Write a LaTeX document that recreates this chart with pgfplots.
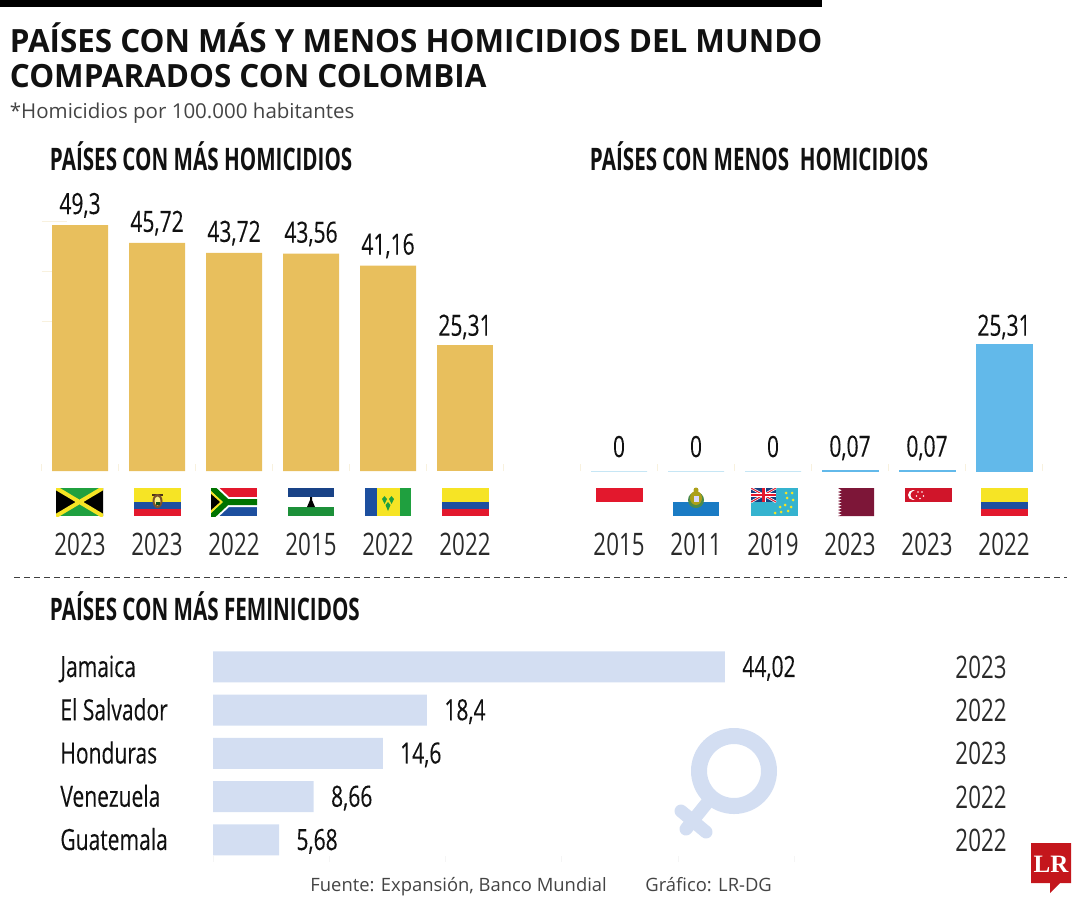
\documentclass[border=0pt]{standalone}
\usepackage{pgfplots}
\pgfplotsset{compat=1.18}
\usepackage{fontspec}
\setmainfont{Open Sans}
\newfontfamily\tfam[FakeStretch=0.98]{Open Sans}
\newfontfamily\hfam[FakeStretch=0.665]{Open Sans}
\newfontfamily\dfam[FakeStretch=0.72]{Open Sans}
\newfontfamily\dbfam[FakeStretch=0.72,FakeBold=0.15]{Open Sans}
\newcommand{\fT}{\tfam\bfseries\fontsize{16}{20}\selectfont}
\newcommand{\fH}{\hfam\bfseries\fontsize{15.5}{17}\selectfont}
\newcommand{\fD}{\dbfam\fontsize{14.6}{17}\selectfont}
\newcommand{\fY}{\dfam\fontsize{15.5}{17}\selectfont}
\newcommand{\fS}{\fontsize{10.25}{12}\selectfont}
\newcommand{\fF}{\fontsize{9.2}{11}\selectfont}
\definecolor{gold}{HTML}{E8BF5D}
\definecolor{skyb}{HTML}{62B9EA}
\definecolor{palebl}{HTML}{C6E6F5}
\definecolor{lav}{HTML}{D3DEF2}
\definecolor{tickc}{HTML}{F8F1DE}
\definecolor{txt}{HTML}{111111}
\definecolor{yr}{HTML}{2A2A2A}
\definecolor{grayt}{HTML}{444444}
\definecolor{cyel}{HTML}{F6E425}
\definecolor{cblu}{HTML}{1D4F9F}
\definecolor{cred}{HTML}{E3182D}
\definecolor{cgrn}{HTML}{1FA03F}
\definecolor{smb}{HTML}{1A7BC4}
\definecolor{tuv}{HTML}{35B3CF}
\definecolor{qat}{HTML}{7D1638}
\definecolor{sgp}{HTML}{D0152A}
\definecolor{lrr}{HTML}{C4161C}
\pgfplotsset{
  /pgf/number format/.cd, assume math mode=true, use comma, 1000 sep={}, fixed, precision=2,
  /pgfplots/.cd,
  vbars/.style={
    scale only axis, width=231pt, height=124.75pt, anchor=south west,
    xmin=-0.5, xmax=5.5, ymin=0, ymax=50,
    ybar, bar width=28pt, bar shift=0pt,
    clip=false,
    axis line style={draw=none},
    xtick={0,1,2,3,4,5},
    minor xtick={-0.5,0.5,1.5,2.5,3.5,4.5,5.5},
    major tick length=0pt,
    minor tick length=3.5pt,
    tick style={color=tickc, line width=0.5pt},
    tick pos=bottom, tick align=inside,
    xticklabel style={font=\fY, text=yr, yshift=-31pt, inner sep=0pt},
    nodes near coords,
    every node near coord/.append style={font=\fD, text=txt, anchor=base, yshift=5pt, inner sep=0pt},
  },
}
\newcommand{\flag}[2]{\begin{scope}[shift={(#1)}]\begin{scope}#2\end{scope}\end{scope}}
\newcommand{\colombia}{%
  \fill[cyel] (0,0) rectangle (47,14);
  \fill[cblu] (0,14) rectangle (47,21);
  \fill[cred] (0,21) rectangle (47,28);}
\begin{document}
\begin{tikzpicture}[x=0.5pt,y=-0.5pt]
\path[use as bounding box] (0,0) rectangle (1080,900);
\fill[black] (0,0) rectangle (822,7);

\node[anchor=base west,inner sep=0pt,text=txt,font=\fT] at (9.5,52) {PAÍSES CON MÁS Y MENOS HOMICIDIOS DEL MUNDO};
\node[anchor=base west,inner sep=0pt,text=txt,font=\fT] at (9.5,87.5) {COMPARADOS CON COLOMBIA};
\node[anchor=base west,inner sep=0pt,text=grayt,font=\fS] at (9.5,118) {*Homicidios por 100.000 habitantes};
\node[anchor=base west,inner sep=0pt,text=txt,font=\fH] at (49.5,170) {PAÍSES CON MÁS HOMICIDIOS};
\node[anchor=base west,inner sep=0pt,text=txt,font=\fH] at (589.5,170) {PAÍSES CON MENOS\ \ HOMICIDIOS};
\node[anchor=base west,inner sep=0pt,text=txt,font=\fH] at (49.5,620.5) {PAÍSES CON MÁS FEMINICIDOS};

% left chart
\begin{axis}[vbars, at={(20.75pt,-235.5pt)},
  xticklabels={2023,2023,2022,2015,2022,2022},
  ytick=\empty,
  ]
  \pgfplotsextra{\draw[tickc,line width=0.5pt]
     (axis cs:-0.5,50) -- ++(12.5pt,0pt) (axis cs:-0.5,40) -- ++(6pt,0pt) (axis cs:-0.5,30) -- ++(6pt,0pt);}
  \addplot[fill=gold,draw=none,every node near coord/.append style={yshift=0.5pt}] coordinates {(0,49.3) (1,45.72) (2,43.72) (3,43.56) (4,41.16)};
  \addplot[fill=gold,draw=none,every node near coord/.append style={yshift=-0.5pt}] coordinates {(5,25.31)};
\end{axis}

% right chart
\begin{axis}[vbars, at={(290.25pt,-235.5pt)},
  xticklabels={2015,2011,2019,2023,2023,2022},
  ytick=\empty,
  ]
  \addplot[fill=palebl,draw=palebl,line width=0.35pt,every node near coord/.append style={yshift=2pt}] coordinates {(0,0) (1,0) (2,0)};
  \addplot[fill=skyb,draw=skyb,line width=0.35pt,every node near coord/.append style={yshift=2pt}] coordinates {(3,0.07) (4,0.07)};
  \addplot[fill=skyb,draw=skyb,line width=0.35pt,every node near coord/.append style={yshift=-0.5pt}] coordinates {(5,25.31)};
\end{axis}

% flags left
\flag{56,488}{\clip (0,0) rectangle (47,28);
  \fill[cgrn] (0,0) rectangle (47,28);
  \fill[black] (0,0)--(23.5,14)--(0,28)--cycle (47,0)--(23.5,14)--(47,28)--cycle;
  \draw[cyel,line width=2pt] (0,0)--(47,28) (47,0)--(0,28);}
\flag{134,488}{\colombia
  \fill[black!60!brown] (18,6) rectangle (29,8);
  \fill[brown!65!black] (23.5,13) ellipse (5 and 7);
  \fill[cyel!55!white] (23.5,13) ellipse (3 and 4.5);
  \fill[cgrn!50!black] (21.5,14) rectangle (25.5,17);}
\flag{211,488}{\clip (0,0) rectangle (46,28);
  \fill[cred] (0,0) rectangle (46,14);
  \fill[cblu] (0,14) rectangle (46,28);
  \draw[white,line width=5pt] (0,-1)--(16,14)--(46,14) (0,29)--(16,14);
  \draw[green!45!black,line width=3pt] (0,-1)--(16,14)--(46,14) (0,29)--(16,14);
  \fill[cyel] (0,3)--(12,14)--(0,25)--cycle;
  \fill[black] (0,6)--(9,14)--(0,22)--cycle;}
\flag{288,488}{
  \fill[cblu!85!black] (0,0) rectangle (46,9);
  \fill[cgrn!90!black] (0,19) rectangle (46,28);
  \fill[black] (19,19)--(22,12)--(22,9)--(24,9)--(24,12)--(27,19)--cycle;}
\flag{365,488}{
  \fill[cblu] (0,0) rectangle (11.5,28);
  \fill[cyel] (11.5,0) rectangle (34.5,28);
  \fill[cgrn] (34.5,0) rectangle (46,28);
  \fill[cgrn] (17,11)--(19.5,8)--(22,11)--(19.5,16)--cycle
              (24,11)--(26.5,8)--(29,11)--(26.5,16)--cycle
              (20.5,17)--(23,14)--(25.5,17)--(23,23)--cycle;}
\flag{442,488}{\colombia}

% flags right
\flag{596,488}{\fill[cred] (0,0) rectangle (47,14);}
\flag{673,488}{
  \fill[smb] (0,14) rectangle (46,28);
  \fill[green!35!black!70] (23,12) ellipse (8 and 8);
  \fill[cyel!70!black] (23,10) ellipse (6 and 7);
  \fill[white!85!blue] (20.5,8) rectangle (25.5,14);
  \fill[cyel!70!black] (23,2) circle (2.5);}
\flag{751,488}{\clip (0,0) rectangle (47,28);
  \fill[tuv] (0,0) rectangle (47,28);
  \fill[cblu!80!black] (0,0) rectangle (25,14);
  \draw[white,line width=1.2pt] (0,0)--(25,14) (25,0)--(0,14);
  \draw[cred,line width=0.5pt] (0,0)--(25,14) (25,0)--(0,14);
  \draw[white,line width=2pt] (12.5,0)--(12.5,14) (0,7)--(25,7);
  \draw[cred,line width=1.1pt] (12.5,0)--(12.5,14) (0,7)--(25,7);
  \foreach \p in {{24,25},{30,24},{29,19},{37,23},{34,17},{40,19},{36,10},{42,12},{41,5},{35,5}}
    \fill[cyel] (\p) circle (1.5);}
\flag{838,488}{
  \fill[qat] (0,0)--(36,0)--(36,28)--(0,28)--(4,26.5)--(0,25)--(4,23.5)--(0,22)--(4,20.5)--(0,19)--(4,17.5)--(0,16)--(4,14.5)--(0,13)--(4,11.5)--(0,10)--(4,8.5)--(0,7)--(4,5.5)--(0,4)--(4,2.5)--cycle;}
\flag{905,488}{
  \fill[sgp] (0,0) rectangle (47,14);
  \fill[white] (8,7) circle (5);
  \fill[sgp] (10,7) circle (4.5);
  \foreach \p in {{13,4},{17,4},{11.5,8},{18.5,8},{15,10.5}}
    \fill[white] (\p) circle (0.9);}
\flag{981,488}{\colombia}

% dashed rule
\draw[black!75,line width=0.5pt,dash pattern=on 3pt off 2pt] (14,577) -- (1067,577);

% feminicide chart
\begin{axis}[
  scale only axis, width=290.75pt, height=108.125pt, anchor=south west,
  at={(106.5pt,-430.8pt)},
  xbar, bar width=15.5pt, bar shift=0pt,
  y dir=reverse, xmin=0, xmax=50, ymin=-0.5, ymax=4.5,
  clip=false,
  axis line style={draw=none},
  ytick={0,1,2,3,4},
  yticklabels={Jamaica,El Salvador,Honduras,Venezuela,Guatemala},
  yticklabel style={font=\fD, text=txt, anchor=base west, yshift=-5pt, xshift=-73.5pt, inner sep=0pt},
  y tick style={draw=none}, major tick length=3pt,
  xtick={0,10,20,30,40,50}, xticklabels={},
  x tick style={color=black!4, line width=0.5pt},
  tick pos=bottom,
  nodes near coords,
  every node near coord/.append style={font=\fD, text=txt, anchor=base west, yshift=-5pt, xshift=8.5pt, inner sep=0pt},
  ]
  \addplot[fill=lav,draw=none] coordinates {(44.02,0) (18.4,1) (14.6,2) (8.66,3) (5.68,4)};
\end{axis}
\foreach \y/\t in {667/2023,710/2022,753/2023,797/2022,840/2022}
  \node[font=\fY,text=yr,inner sep=0pt] at (981,\y) {\t};

% female symbol
\draw[lav,line width=8pt] (734,771) circle (35);
\draw[lav,line width=6.5pt,line cap=round] (711,798) -- (686,829) (681,811) -- (706,832);

% footer
\node[anchor=base west,inner sep=0pt,text=grayt,font=\fF] at (310,891) {Fuente: Expansión, Banco Mundial};
\node[anchor=base west,inner sep=0pt,text=grayt,font=\fF] at (645,891) {Gráfico: LR-DG};

% logo
\fill[lrr] (1031,843) -- (1071,843) -- (1071,883) -- (1060,883) -- (1050,893) -- (1050,883) -- (1031,883) -- cycle;
\node[text=white,inner sep=0pt,font=\fontspec{Liberation Serif}\bfseries\fontsize{12.5}{14}\selectfont] at (1051,864) {LR};
\end{tikzpicture}
\end{document}
